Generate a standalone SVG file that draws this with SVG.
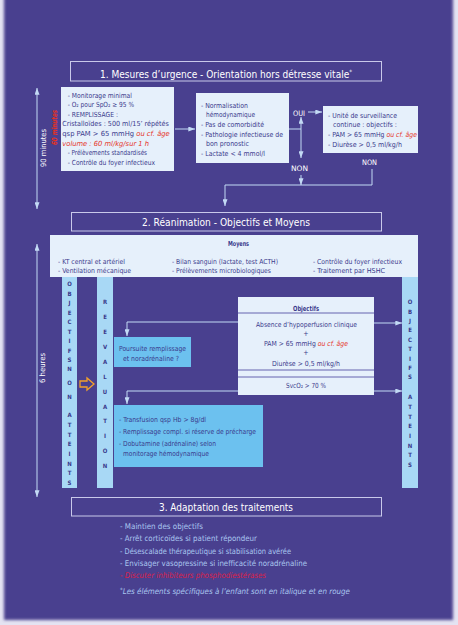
<svg xmlns="http://www.w3.org/2000/svg" width="458" height="625" viewBox="0 0 458 625">
<style>
text{font-family:"DejaVu Sans Condensed","DejaVu Sans",sans-serif}
.box{fill:#e6f0fb}
.bar{fill:#a8d8f5}
.mid{fill:#6cc1ef}
.title{fill:none;stroke:#c9c9ea;stroke-width:1}
.tt{fill:#ffffff;font-size:9.8px;text-anchor:middle}
.bt{fill:#3a3a8c;font-size:7px}
.sm{font-size:6.8px}
.c{text-anchor:middle}
.red{fill:#e5321f;font-style:italic}
.lt{fill:#ffffff;font-size:7.5px;text-anchor:middle}
.let{fill:#3a3a8c;font-size:6px;font-weight:bold;text-anchor:middle}
.li{fill:#a9c6ef;font-size:7.9px}
.con{fill:none;stroke:#c3daf5;stroke-width:1}
.sep{stroke:#5753a6;stroke-width:0.9}
</style>
<defs>
<marker id="ah" viewBox="0 0 8 6" refX="8" refY="3" markerWidth="7" markerHeight="5" markerUnits="userSpaceOnUse" orient="auto-start-reverse">
<path d="M0,0 L8,3 L0,6 z" fill="#c3daf5"/>
</marker>
<filter id="soft" x="-5%" y="-5%" width="110%" height="110%"><feGaussianBlur stdDeviation="1.5"/></filter>
</defs>
<rect width="458" height="625" fill="#e4e3f2"/>
<rect x="4" y="-10" width="449" height="630" fill="#48418f" filter="url(#soft)"/>

<g id="connectors">
<line class="con" x1="37" y1="88" x2="37" y2="209" marker-start="url(#ah)" marker-end="url(#ah)"/>
<line class="con" x1="37" y1="244" x2="37" y2="497" marker-start="url(#ah)" marker-end="url(#ah)"/>
<path class="con" d="M175,129 H195" marker-end="url(#ah)"/>
<path class="con" d="M289,129 H301"/>
<path class="con" d="M301,129 V117" marker-end="url(#ah)"/>
<path class="con" d="M301,129 V158" marker-end="url(#ah)"/>
<path class="con" d="M308,112 H322" marker-end="url(#ah)"/>
<path class="con" d="M301,175 V185" marker-end="url(#ah)"/>
<path class="con" d="M372,169 V185 H225 V206" marker-end="url(#ah)"/>
<path class="con" d="M374,323 H402" marker-end="url(#ah)"/>
<path class="con" d="M374,391 H402" marker-end="url(#ah)"/>
<path class="con" d="M238,322 H127 V336" marker-end="url(#ah)"/>
<path class="con" d="M238,391 H127 V404" marker-end="url(#ah)"/>
<path d="M80,381 H87 V378 L94,384 L87,390 V387 H80 Z" fill="none" stroke="#f3a02a" stroke-width="1.3"/>
</g>

<g id="timeline">
<text transform="translate(45.5,148) rotate(-90)" textLength="38" lengthAdjust="spacingAndGlyphs" style="fill:#ffffff;font-size:7.5px;text-anchor:middle">90 minutes</text>
<text transform="translate(57,127.5) rotate(-90)" textLength="35" lengthAdjust="spacingAndGlyphs" style="fill:#e5321f;font-size:7.5px;font-style:italic;font-weight:bold;text-anchor:middle">60 minutes</text>
<text transform="translate(44.5,368) rotate(-90)" textLength="30" lengthAdjust="spacingAndGlyphs" style="fill:#ffffff;font-size:7.5px;text-anchor:middle">6 heures</text>
</g>

<g id="title1">
<rect class="title" x="70.5" y="61.5" width="311" height="19.5"/>
<text class="tt" x="226" y="77.5" textLength="252" lengthAdjust="spacingAndGlyphs">1. Mesures d’urgence - Orientation hors détresse vitale<tspan dy="-4" font-size="6">*</tspan></text>
</g>

<g id="box1a">
<rect class="box" x="61" y="87" width="113" height="84"/>
<text class="bt" x="67.7" y="97.5" textLength="64.3" lengthAdjust="spacingAndGlyphs">- Monitorage minimal</text>
<text class="bt" x="67.7" y="106.5" textLength="66.3" lengthAdjust="spacingAndGlyphs">- O₂ pour SpO₂ ≥ 95 %</text>
<text class="bt" x="67.7" y="116.5" textLength="50.3" lengthAdjust="spacingAndGlyphs">- REMPLISSAGE :</text>
<text class="bt" x="62.3" y="125.5" textLength="106.5" lengthAdjust="spacingAndGlyphs">Cristalloïdes : 500 ml/15’ répétés</text>
<text class="bt" x="62.3" y="135.5" textLength="107.5" lengthAdjust="spacingAndGlyphs">qsp PAM &gt; 65 mmHg <tspan class="red">ou cf. âge</tspan></text>
<text class="bt red" x="62.3" y="145.5" textLength="86.7" lengthAdjust="spacingAndGlyphs">volume : 60 ml/kg/sur 1 h</text>
<text class="bt" x="67.7" y="154.5" textLength="79.3" lengthAdjust="spacingAndGlyphs">- Prélèvements standardisés</text>
<text class="bt" x="67.7" y="164.5" textLength="87.3" lengthAdjust="spacingAndGlyphs">- Contrôle du foyer infectieux</text>
</g>

<g id="box1b">
<rect class="box" x="196" y="93" width="93" height="70"/>
<text class="bt" x="201" y="107.5" textLength="47" lengthAdjust="spacingAndGlyphs">- Normalisation</text>
<text class="bt" x="206" y="117" textLength="49" lengthAdjust="spacingAndGlyphs">hémodynamique</text>
<text class="bt" x="201" y="126.5" textLength="63" lengthAdjust="spacingAndGlyphs">- Pas de comorbidité</text>
<text class="bt" x="201" y="136.5" textLength="82" lengthAdjust="spacingAndGlyphs">- Pathologie infectieuse de</text>
<text class="bt" x="206" y="146">bon pronostic</text>
<text class="bt" x="201" y="155.5" textLength="64" lengthAdjust="spacingAndGlyphs">- Lactate &lt; 4 mmol/l</text>
</g>

<g id="oui"><text class="lt" x="299" y="115.5" textLength="12" lengthAdjust="spacingAndGlyphs">OUI</text></g>
<g id="non1"><text class="lt" x="299.5" y="171" textLength="17" lengthAdjust="spacingAndGlyphs">NON</text></g>
<g id="non2"><text class="lt" x="369.5" y="165" textLength="15" lengthAdjust="spacingAndGlyphs">NON</text></g>

<g id="box1c">
<rect class="box" x="323" y="106" width="95" height="47"/>
<text class="bt" x="328" y="117.5" textLength="69" lengthAdjust="spacingAndGlyphs">- Unité de surveillance</text>
<text class="bt" x="333" y="127" textLength="64" lengthAdjust="spacingAndGlyphs">continue : objectifs :</text>
<text class="bt" x="328" y="136.5" textLength="89" lengthAdjust="spacingAndGlyphs">- PAM &gt; 65 mmHg <tspan class="red">ou cf. âge</tspan></text>
<text class="bt" x="328" y="146.5" textLength="74" lengthAdjust="spacingAndGlyphs">- Diurèse &gt; 0,5 ml/kg/h</text>
</g>

<g id="title2">
<rect class="title" x="71.5" y="212.5" width="310" height="18.5"/>
<text class="tt" x="226" y="225.5" textLength="168" lengthAdjust="spacingAndGlyphs">2. Réanimation - Objectifs et Moyens</text>
</g>

<g id="moyens">
<rect class="box" x="50" y="235" width="368" height="42"/>
<text class="bt sm c" x="238.5" y="246" font-weight="bold" textLength="21" lengthAdjust="spacingAndGlyphs">Moyens</text>
<text class="bt sm" x="58" y="264" textLength="67" lengthAdjust="spacingAndGlyphs">- KT central et artériel</text>
<text class="bt sm" x="58" y="273" textLength="73" lengthAdjust="spacingAndGlyphs">- Ventilation mécanique</text>
<text class="bt sm" x="172" y="264" textLength="106" lengthAdjust="spacingAndGlyphs">- Bilan sanguin (lactate, test ACTH)</text>
<text class="bt sm" x="172" y="273" textLength="99" lengthAdjust="spacingAndGlyphs">- Prélèvements microbiologiques</text>
<text class="bt sm" x="313" y="264" textLength="89" lengthAdjust="spacingAndGlyphs">- Contrôle du foyer infectieux</text>
<text class="bt sm" x="313" y="273" textLength="72" lengthAdjust="spacingAndGlyphs">- Traitement par HSHC</text>
</g>

<g id="bar-non-atteints">
<rect class="bar" x="62" y="277" width="15" height="211"/>
<text class="let"><tspan x="69.5" y="286.2">O</tspan><tspan x="69.5" y="295.7">B</tspan><tspan x="69.5" y="305.2">J</tspan><tspan x="69.5" y="314.7">E</tspan><tspan x="69.5" y="324.2">C</tspan><tspan x="69.5" y="333.7">T</tspan><tspan x="69.5" y="343.2">I</tspan><tspan x="69.5" y="352.7">F</tspan><tspan x="69.5" y="362.2">S</tspan><tspan x="69.5" y="371.2">N</tspan><tspan x="69.5" y="385.2">O</tspan><tspan x="69.5" y="399.2">N</tspan><tspan x="69.5" y="417.2">A</tspan><tspan x="69.5" y="426.9">T</tspan><tspan x="69.5" y="436.6">T</tspan><tspan x="69.5" y="446.3">E</tspan><tspan x="69.5" y="456">I</tspan><tspan x="69.5" y="465.7">N</tspan><tspan x="69.5" y="475.4">T</tspan><tspan x="69.5" y="485.1">S</tspan></text>
</g>

<g id="bar-reevaluation">
<rect class="bar" x="97" y="277" width="16" height="211"/>
<text class="let"><tspan x="105" y="304.2">R</tspan><tspan x="105" y="319.1">E</tspan><tspan x="105" y="334">E</tspan><tspan x="105" y="348.9">V</tspan><tspan x="105" y="363.8">A</tspan><tspan x="105" y="378.7">L</tspan><tspan x="105" y="393.6">U</tspan><tspan x="105" y="408.5">A</tspan><tspan x="105" y="423.4">T</tspan><tspan x="105" y="438.3">I</tspan><tspan x="105" y="453.2">O</tspan><tspan x="105" y="468.1">N</tspan></text>
</g>

<g id="bar-atteints">
<rect class="bar" x="402" y="277" width="16" height="211"/>
<text class="let"><tspan x="410" y="304.2">O</tspan><tspan x="410" y="313.6">B</tspan><tspan x="410" y="323">J</tspan><tspan x="410" y="332.4">E</tspan><tspan x="410" y="341.8">C</tspan><tspan x="410" y="351.2">T</tspan><tspan x="410" y="360.6">I</tspan><tspan x="410" y="370">F</tspan><tspan x="410" y="379.4">S</tspan><tspan x="410" y="399.2">A</tspan><tspan x="410" y="408.9">T</tspan><tspan x="410" y="418.6">T</tspan><tspan x="410" y="428.3">E</tspan><tspan x="410" y="438">I</tspan><tspan x="410" y="447.7">N</tspan><tspan x="410" y="457.4">T</tspan><tspan x="410" y="467.1">S</tspan></text>
</g>

<g id="objectifs">
<rect class="box" x="238" y="297" width="136" height="98"/>
<line class="sep" x1="238" y1="313" x2="374" y2="313"/>
<line class="sep" x1="238" y1="370" x2="374" y2="370"/>
<line class="sep" x1="238" y1="377" x2="374" y2="377"/>
<text class="bt c" x="306" y="311" font-weight="bold" textLength="26" lengthAdjust="spacingAndGlyphs">Objectifs</text>
<text class="bt c" x="306.5" y="326.5" textLength="101" lengthAdjust="spacingAndGlyphs">Absence d’hypoperfusion clinique</text>
<text class="bt c" x="306" y="336">+</text>
<text class="bt c" x="306" y="345.5" textLength="84" lengthAdjust="spacingAndGlyphs">PAM &gt; 65 mmHg <tspan class="red">ou cf. âge</tspan></text>
<text class="bt c" x="306" y="355">+</text>
<text class="bt c" x="306" y="365.5" textLength="68" lengthAdjust="spacingAndGlyphs">Diurèse &gt; 0,5 ml/kg/h</text>
<text class="bt c" x="306" y="387.5" textLength="40" lengthAdjust="spacingAndGlyphs">SvcO₂ &gt; 70 %</text>
</g>

<g id="poursuite">
<rect class="mid" x="114" y="337" width="77" height="30"/>
<text class="bt c" x="152.5" y="350.5" textLength="67" lengthAdjust="spacingAndGlyphs">Poursuite remplissage</text>
<text class="bt c" x="151" y="360.5" textLength="56" lengthAdjust="spacingAndGlyphs">et noradrénaline ?</text>
</g>

<g id="transfusion">
<rect class="mid" x="114" y="405" width="149" height="62"/>
<text class="bt" x="119" y="421.5" textLength="87" lengthAdjust="spacingAndGlyphs">- Transfusion qsp Hb &gt; 8g/dl</text>
<text class="bt" x="119" y="434" textLength="137" lengthAdjust="spacingAndGlyphs">- Remplissage compl. si réserve de précharge</text>
<text class="bt" x="119" y="445.5" textLength="97" lengthAdjust="spacingAndGlyphs">- Dobutamine (adrénaline) selon</text>
<text class="bt" x="123" y="455.5" textLength="86" lengthAdjust="spacingAndGlyphs">monitorage hémodynamique</text>
</g>

<g id="title3">
<rect class="title" x="71.5" y="497.5" width="310" height="18.5"/>
<text class="tt" x="226" y="510.5" textLength="134" lengthAdjust="spacingAndGlyphs">3. Adaptation des traitements</text>
</g>

<g id="adaptation">
<text class="li" x="120" y="529" textLength="83" lengthAdjust="spacingAndGlyphs">- Maintien des objectifs</text>
<text class="li" x="120" y="541" textLength="137" lengthAdjust="spacingAndGlyphs">- Arrêt corticoïdes si patient répondeur</text>
<text class="li" x="120" y="554" textLength="171" lengthAdjust="spacingAndGlyphs">- Désescalade thérapeutique si stabilisation avérée</text>
<text class="li" x="120" y="565.5" textLength="187" lengthAdjust="spacingAndGlyphs">- Envisager vasopressine si inefficacité noradrénaline</text>
<text class="li" x="120" y="577.5" textLength="146" lengthAdjust="spacingAndGlyphs" style="fill:#d9204a;font-style:italic">- Discuter inhibiteurs phosphodiestérases</text>
<text class="li" x="120" y="594" font-style="italic" textLength="230" lengthAdjust="spacingAndGlyphs"><tspan dy="-2" font-size="6">*</tspan><tspan dy="2">Les éléments spécifiques à l’enfant sont en italique et en rouge</tspan></text>
</g>
</svg>
